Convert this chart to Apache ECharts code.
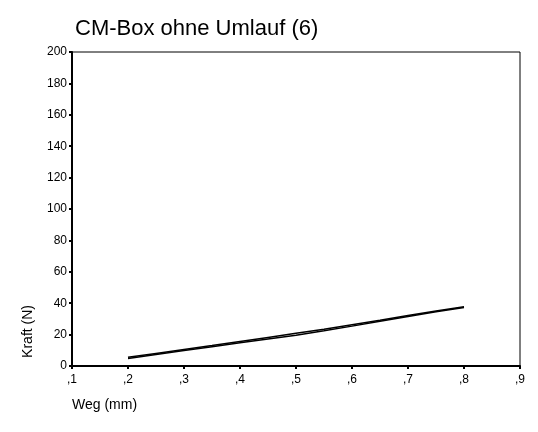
<!DOCTYPE html>
<html>
<head>
<meta charset="utf-8">
<script src="https://cdn.jsdelivr.net/npm/echarts@6/dist/echarts.min.js"></script>
<style>
  html, body { margin: 0; padding: 0; background: #fff; }
  #chart { width: 538px; height: 432px; }
</style>
</head>
<body>
<div id="chart"></div>
<script>
// Weg (mm) sample positions and measured force (N), loading and unloading
const wegBelastung = [0.20, 0.25, 0.30, 0.35, 0.40, 0.45, 0.50, 0.55, 0.60, 0.65, 0.70, 0.75, 0.80];
const kraftBelastung = [4.8, 7.3, 9.8, 12.3, 14.8, 17.2, 19.6, 22.4, 25.4, 28.5, 31.6, 34.5, 37.3];
const wegEntlastung = [0.80, 0.75, 0.70, 0.65, 0.60, 0.55, 0.50, 0.45, 0.40, 0.35, 0.30, 0.25, 0.20];
const kraftEntlastung = [37.8, 35.1, 32.2, 29.2, 26.3, 23.4, 20.8, 18.2, 15.6, 13.0, 10.5, 8.0, 5.5];

const yTicks = { min: 0, max: 200, step: 20 };
const xTicks = { min: 0.1, max: 0.9, step: 0.1 };

const titel = 'CM-Box ohne Umlauf (6)';
const yTitel = 'Kraft (N)';
const xTitel = 'Weg (mm)';

const pairs = (xs, ys) => xs.map((x, i) => [x, ys[i]]);
const font = 'Arial, "Liberation Sans", Helvetica, sans-serif';

const chart = echarts.init(document.getElementById('chart'), null, { renderer: 'canvas' });
chart.setOption({
  animation: false,
  backgroundColor: '#ffffff',
  title: {
    text: titel,
    left: 70,
    top: 13,
    textStyle: { fontFamily: font, fontSize: 22, fontWeight: 'normal', color: '#000' }
  },
  grid: {
    left: 72, right: 18, top: 52, bottom: 66,
    show: true, borderColor: '#000', borderWidth: 1, backgroundColor: 'transparent'
  },
  xAxis: {
    type: 'value',
    min: xTicks.min, max: xTicks.max, interval: xTicks.step,
    axisLine: { show: true, onZero: false, lineStyle: { color: '#000', width: 2 } },
    axisTick: { show: true, length: 3, lineStyle: { color: '#000', width: 2 } },
    splitLine: { show: false },
    axisLabel: {
      color: '#000', fontFamily: font, fontSize: 12, margin: 8,
      formatter: v => ',' + Math.round(v * 10)
    }
  },
  yAxis: {
    type: 'value',
    min: yTicks.min, max: yTicks.max, interval: yTicks.step,
    axisLine: { show: true, lineStyle: { color: '#000', width: 2 } },
    axisTick: { show: true, length: 3, lineStyle: { color: '#000', width: 2 } },
    splitLine: { show: false },
    axisLabel: { color: '#000', fontFamily: font, fontSize: 12, margin: 5 }
  },
  graphic: [
    {
      type: 'text', left: 21, top: 305, rotation: Math.PI / 2,
      style: { text: yTitel, font: '14px ' + font, fill: '#000' }
    },
    {
      type: 'text', left: 72, top: 398,
      style: { text: xTitel, font: '14px ' + font, fill: '#000' }
    }
  ],
  series: [
    {
      name: 'Belastung', type: 'line', showSymbol: false, smooth: false,
      data: pairs(wegBelastung, kraftBelastung),
      lineStyle: { color: '#000', width: 1.5 }
    },
    {
      name: 'Entlastung', type: 'line', showSymbol: false, smooth: false,
      data: pairs(wegEntlastung, kraftEntlastung),
      lineStyle: { color: '#000', width: 1.5 }
    }
  ]
});
</script>
</body>
</html>
